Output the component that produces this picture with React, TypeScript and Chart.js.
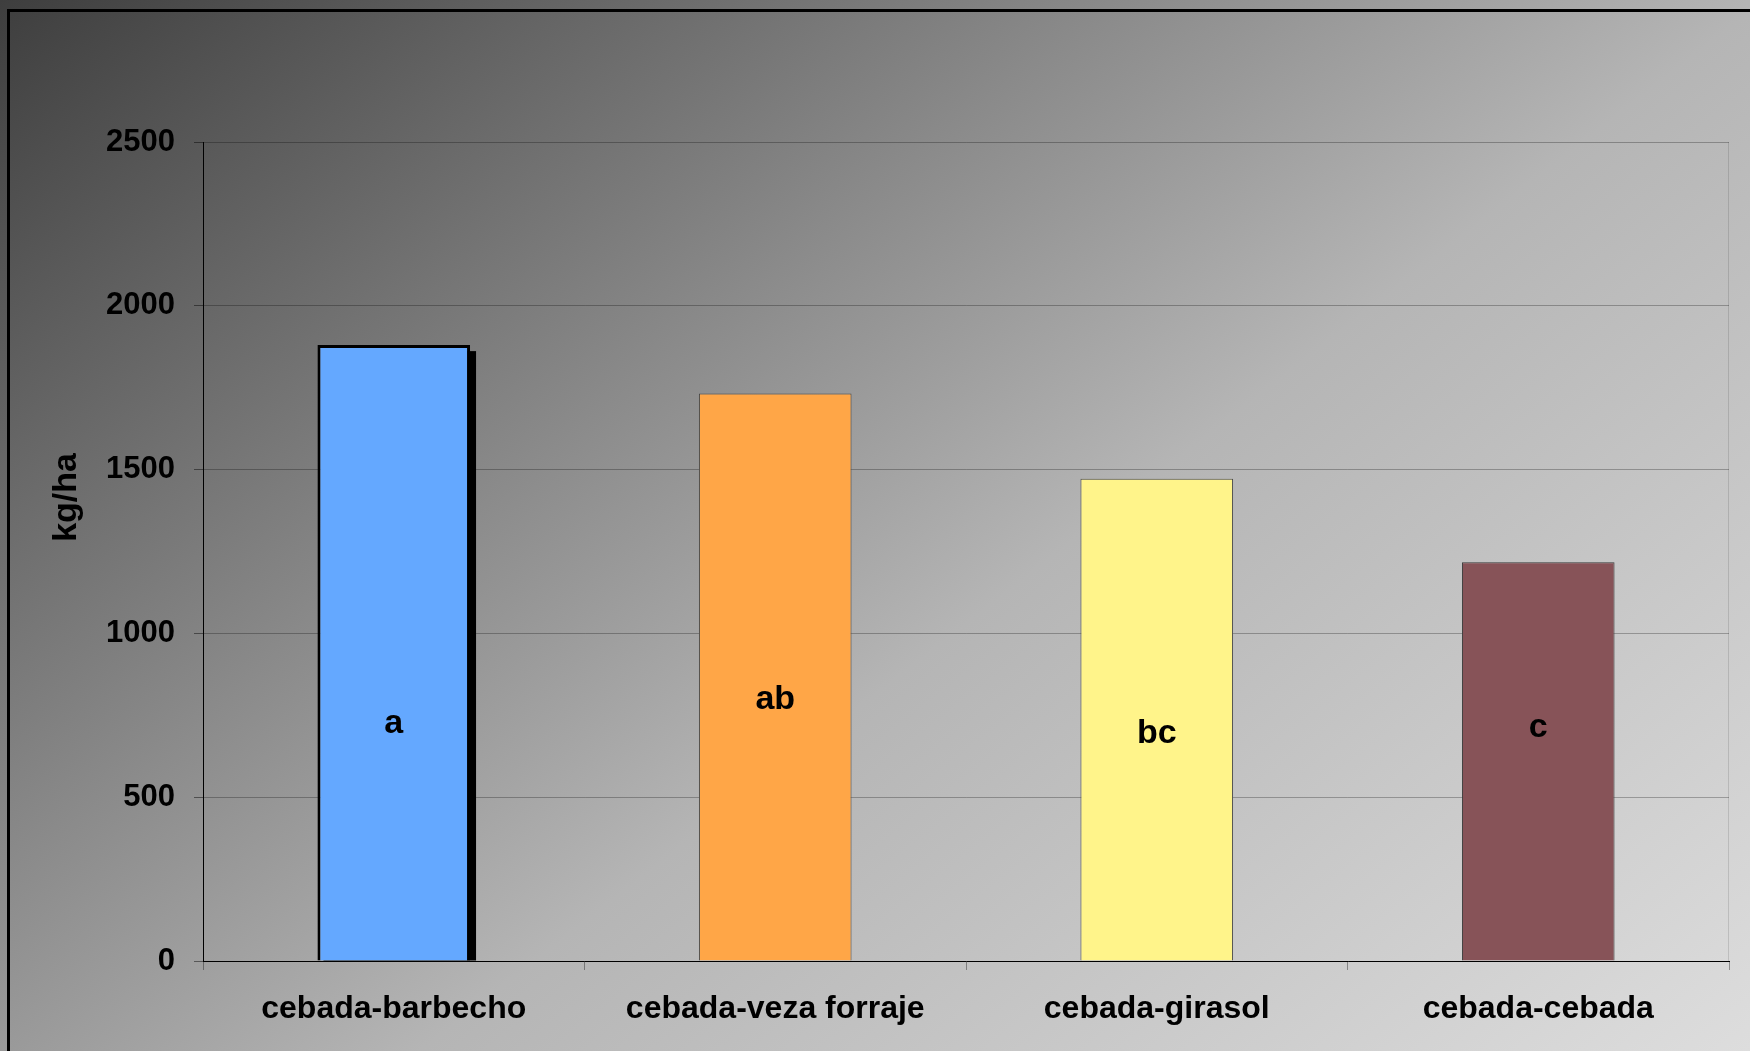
import React, { useEffect, useRef } from "react";
import { Chart, registerables } from "chart.js";

Chart.register(...registerables);

const categories = ["cebada-barbecho", "cebada-veza forraje", "cebada-girasol", "cebada-cebada"];
const yieldValues = [1880, 1732, 1472, 1217];
const groupLetters = ["a", "ab", "bc", "c"];
const letterLevels = [695, 768, 665, 683];
const barColors = ["#64A8FF", "#FFA647", "#FFF48A", "#875358"];
const barBorderColors = ["#000000", "#4a4a4a", "#4a4a4a", "#3a3a3a"];
const barBorderWidths = [3, 1, 1, 1];
const yTicks = [0, 500, 1000, 1500, 2000, 2500];
const yTitle = "kg/ha";
const yTitleLevel = 1415;

const FONT = "'Liberation Sans', Arial, Helvetica, sans-serif";

const barExtras = {
  id: "barExtras",
  beforeDatasetsDraw(chart: any) {
    const ctx = chart.ctx;
    const area = chart.chartArea;
    ctx.save();
    ctx.strokeStyle = "rgba(0,0,0,0.12)";
    ctx.lineWidth = 1;
    ctx.beginPath();
    ctx.moveTo(area.right - 0.5, area.top);
    ctx.lineTo(area.right - 0.5, area.bottom);
    ctx.stroke();
    const bar = chart.getDatasetMeta(0).data[0];
    if (bar) {
      const { x, y, base, width } = bar.getProps(["x", "y", "base", "width"], true);
      ctx.fillStyle = "#000";
      ctx.fillRect(x - width / 2 + 6, y + 6, width, base - y - 6);
    }
    ctx.restore();
  },
  afterDatasetsDraw(chart: any) {
    const ctx = chart.ctx;
    const meta = chart.getDatasetMeta(0);
    const yScale = chart.scales.y;
    ctx.save();
    ctx.font = `bold 34px ${FONT}`;
    ctx.fillStyle = "#000";
    ctx.textAlign = "center";
    ctx.textBaseline = "alphabetic";
    meta.data.forEach((bar: any, i: number) => {
      const { x } = bar.getProps(["x"], true);
      ctx.fillText(groupLetters[i], x, yScale.getPixelForValue(letterLevels[i]));
    });
    // y axis title
    ctx.translate(67, yScale.getPixelForValue(yTitleLevel));
    ctx.rotate(-Math.PI / 2);
    ctx.textBaseline = "middle";
    ctx.font = `bold 34px ${FONT}`;
    ctx.fillText(yTitle, 0, 0);
    ctx.restore();
  },
};

export default function App() {
  const ref = useRef<HTMLCanvasElement | null>(null);

  useEffect(() => {
    if (!ref.current) return;
    const chart = new Chart(ref.current, {
      type: "bar",
      data: {
        labels: categories,
        datasets: [
          {
            data: yieldValues,
            backgroundColor: barColors,
            borderColor: barBorderColors,
            borderWidth: barBorderWidths,
            barPercentage: 0.4,
            categoryPercentage: 1,
          },
        ],
      },
      options: {
        animation: false,
        responsive: false,
        devicePixelRatio: 1,
        layout: { padding: { top: 142, right: 21, bottom: 0, left: 0 } },
        plugins: {
          legend: { display: false },
          tooltip: { enabled: false },
          title: { display: false },
        },
        scales: {
          x: {
            afterFit: (s: any) => {
              s.height = 90;
            },
            grid: {
              display: true,
              drawOnChartArea: false,
              drawTicks: true,
              tickLength: 9,
              color: "rgba(0,0,0,0.35)",
              offset: true,
            },
            border: { display: true, color: "#000", width: 1 },
            ticks: {
              color: "#000",
              font: { family: FONT, size: 32, weight: "bold" },
              padding: 20,
              maxRotation: 0,
              autoSkip: false,
            },
          },
          y: {
            min: 0,
            max: 2500,
            afterFit: (s: any) => {
              s.width = 203;
            },
            afterBuildTicks: (s: any) => {
              s.ticks = yTicks.map((v) => ({ value: v }));
            },
            grid: {
              color: "rgba(0,0,0,0.27)",
              tickLength: 9,
              tickColor: "rgba(0,0,0,0.45)",
            },
            border: { display: true, color: "#000", width: 1 },
            ticks: {
              color: "#000",
              font: { family: FONT, size: 31, weight: "bold" },
              padding: 19,
              callback: (v: any) => String(v),
            },
          },
        },
      },
      plugins: [barExtras],
    });
    return () => chart.destroy();
  }, []);

  return (
    <div
      style={{
        position: "fixed",
        left: 0,
        top: 0,
        width: 1750,
        height: 1051,
        overflow: "hidden",
        background:
          "linear-gradient(142deg, #3e3e3e 0%, #8a8a8a 36%, #b5b5b5 57%, #dddddd 100%)",
      }}
    >
      <div
        style={{
          position: "absolute",
          left: 7,
          top: 9,
          width: 1800,
          height: 1100,
          border: "3px solid #000",
          boxSizing: "border-box",
        }}
      />
      <canvas
        ref={ref}
        width={1750}
        height={1051}
        style={{ position: "absolute", left: 0, top: 0, width: 1750, height: 1051 }}
      />
    </div>
  );
}
